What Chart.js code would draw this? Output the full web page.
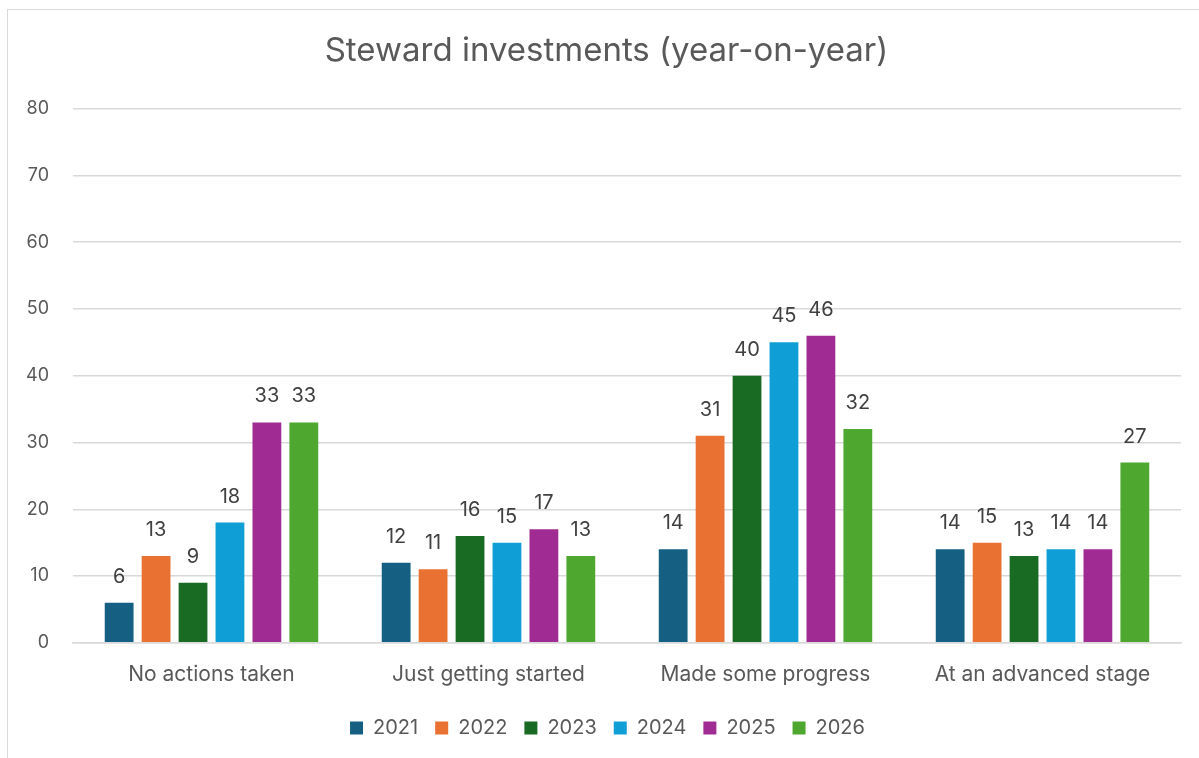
<!DOCTYPE html>
<html>
<head>
<meta charset="utf-8">
<script src="https://cdn.jsdelivr.net/npm/chart.js@4/dist/chart.umd.min.js"></script>
<style>
  html, body { margin: 0; padding: 0; background: #fff; }
  #marco {
    position: absolute; left: 7px; top: 9px; width: 1200px; height: 760px;
    border: 1px solid #d9d9d9; box-sizing: border-box;
  }
  #wrap { position: absolute; left: 0; top: 0; width: 1199px; height: 758px; }
</style>
</head>
<body>
<div id="marco"></div>
<div id="wrap"><canvas id="grafico"></canvas></div>
<script>
const categorias = ['No actions taken', 'Just getting started', 'Made some progress', 'At an advanced stage'];
const anios = ['2021', '2022', '2023', '2024', '2025', '2026'];
const valores2021 = [6, 12, 14, 14];
const valores2022 = [13, 11, 31, 15];
const valores2023 = [9, 16, 40, 13];
const valores2024 = [18, 15, 45, 14];
const valores2025 = [33, 17, 46, 14];
const valores2026 = [33, 13, 32, 27];
const colores = ['#156082', '#E97132', '#196B24', '#0F9ED5', '#A02B93', '#4EA72E'];
const ticksY = [0, 10, 20, 30, 40, 50, 60, 70, 80];

const series = [valores2021, valores2022, valores2023, valores2024, valores2025, valores2026];
const fuente = 'Inter, "Noto Sans", sans-serif';

// etiquetas de valor encima de cada barra
const etiquetasBarras = {
    id: 'etiquetasBarras',
    afterDatasetsDraw(chart) {
        const ctx = chart.ctx;
        ctx.save();
        ctx.font = '20px ' + fuente;
        ctx.fillStyle = '#404040';
        ctx.textAlign = 'center';
        ctx.textBaseline = 'bottom';
        chart.data.datasets.forEach((ds, i) => {
            chart.getDatasetMeta(i).data.forEach((bar, j) => {
                ctx.fillText(String(ds.data[j]), bar.x, bar.y - 16);
            });
        });
        ctx.restore();
    }
};

// centrar titulo y leyenda como en el original
const moverCajas = {
    id: 'moverCajas',
    afterLayout(chart) {
        chart.titleBlock.left += 15;
        chart.titleBlock.right += 15;
        chart.legend.left += 16;
        chart.legend.right += 16;
    }
};

const ctx = document.getElementById('grafico').getContext('2d');
new Chart(ctx, {
    type: 'bar',
    data: {
        labels: categorias,
        datasets: anios.map((a, i) => ({
            label: a,
            data: series[i],
            backgroundColor: colores[i],
            borderWidth: 0,
            categoryPercentage: 0.8,
            barPercentage: 0.78
        }))
    },
    options: {
        responsive: true,
        maintainAspectRatio: false,
        animation: false,
        layout: { padding: { top: 31, left: 2, right: 18, bottom: 10 } },
        plugins: {
            title: {
                display: true,
                text: 'Steward investments (year-on-year)',
                color: '#595959',
                font: { family: fuente, size: 33, weight: 'normal' },
                padding: { top: 0, bottom: 38 }
            },
            legend: {
                position: 'bottom',
                labels: {
                    color: '#595959',
                    font: { family: fuente, size: 20 },
                    boxWidth: 13,
                    boxHeight: 13,
                    padding: 17
                }
            },
            tooltip: { enabled: false }
        },
        scales: {
            x: {
                grid: { display: false, drawTicks: false },
                border: { color: '#d9d9d9', width: 1.5 },
                ticks: { color: '#595959', font: { family: fuente, size: 21 }, padding: 19 },
                afterFit(axis) { axis.height -= 5; }
            },
            y: {
                min: 0,
                max: 80,
                afterBuildTicks(axis) { axis.ticks = ticksY.map(v => ({ value: v })); },
                grid: { color: '#d9d9d9', lineWidth: 1.5, drawTicks: false },
                border: { display: false },
                ticks: { color: '#595959', font: { family: fuente, size: 18 }, padding: 24 }
            }
        }
    },
    plugins: [etiquetasBarras, moverCajas]
});
</script>
</body>
</html>
